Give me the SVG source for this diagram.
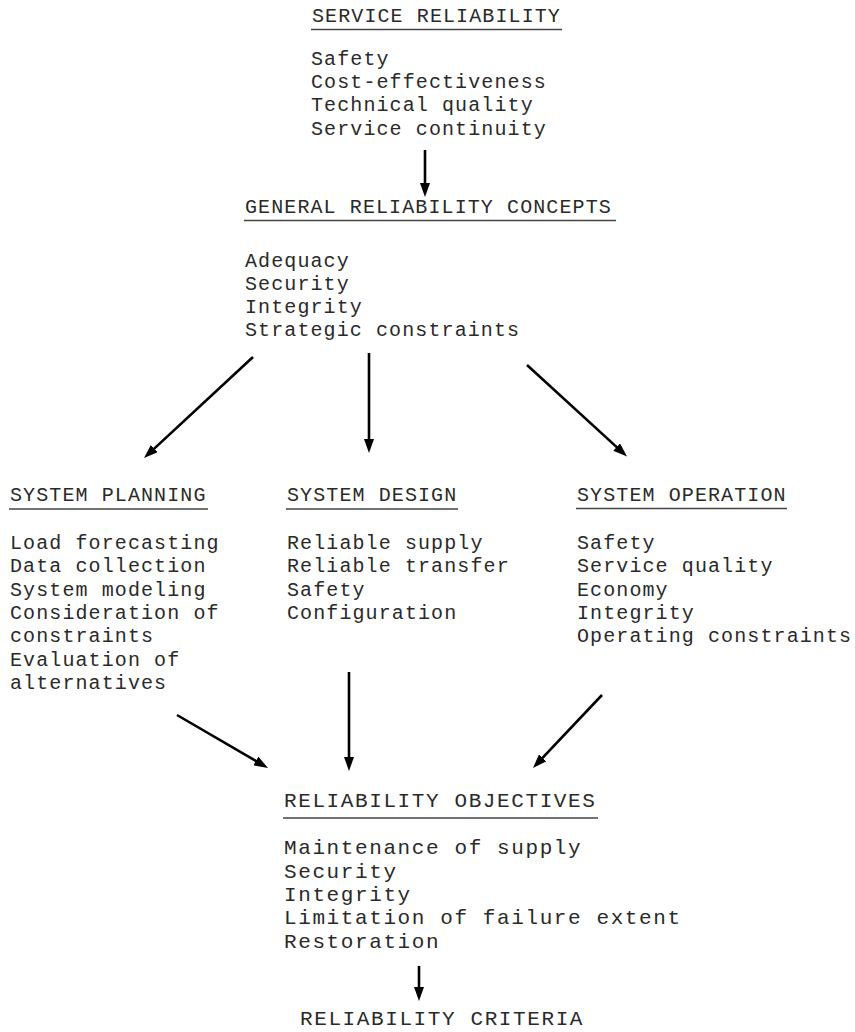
<svg xmlns="http://www.w3.org/2000/svg" width="855" height="1032" viewBox="0 0 855 1032">
<defs>
<style>
text{font-family:"Liberation Mono","Courier New",monospace;fill:#2a2a2a}
.t{font-size:20px;letter-spacing:1.1px}
.b{font-size:21px;letter-spacing:1.6px}
.u{stroke:#444;stroke-width:1.6}
.c{stroke:#000;stroke-width:2.6;fill:none;marker-end:url(#ah)}
</style>
<marker id="ah" markerUnits="userSpaceOnUse" markerWidth="14" markerHeight="10" refX="6" refY="5" orient="auto">
<path d="M0,0 L14,5 L0,10 z" fill="#000"/>
</marker>
</defs>
<rect width="855" height="1032" fill="#fff"/>
<g id="service-reliability">
<text class="t" x="312" y="21.5">SERVICE RELIABILITY</text>
<line class="u" x1="311" y1="29.5" x2="562" y2="29.5"/>
<text class="t" x="311" y="65">Safety</text>
<text class="t" x="311" y="88">Cost-effectiveness</text>
<text class="t" x="311" y="111">Technical quality</text>
<text class="t" x="311" y="134.5">Service continuity</text>
</g>
<g id="general-reliability-concepts">
<text class="t" x="245" y="213">GENERAL RELIABILITY CONCEPTS</text>
<line class="u" x1="244" y1="220.5" x2="616" y2="220.5"/>
<text class="t" x="245" y="266.5">Adequacy</text>
<text class="t" x="245" y="289.5">Security</text>
<text class="t" x="245" y="312.5">Integrity</text>
<text class="t" x="245" y="335.5">Strategic constraints</text>
</g>
<g id="system-planning">
<text class="t" x="10" y="501">SYSTEM PLANNING</text>
<line class="u" x1="9" y1="509" x2="208" y2="509"/>
<text class="t" x="10" y="549">Load forecasting</text>
<text class="t" x="10" y="572.3">Data collection</text>
<text class="t" x="10" y="595.6">System modeling</text>
<text class="t" x="10" y="619">Consideration of</text>
<text class="t" x="10" y="642.3">constraints</text>
<text class="t" x="10" y="665.6">Evaluation of</text>
<text class="t" x="10" y="689">alternatives</text>
</g>
<g id="system-design">
<text class="t" x="287" y="501">SYSTEM DESIGN</text>
<line class="u" x1="286" y1="509" x2="458" y2="509"/>
<text class="t" x="287" y="549">Reliable supply</text>
<text class="t" x="287" y="572.3">Reliable transfer</text>
<text class="t" x="287" y="595.6">Safety</text>
<text class="t" x="287" y="619">Configuration</text>
</g>
<g id="system-operation">
<text class="t" x="577" y="501">SYSTEM OPERATION</text>
<line class="u" x1="576" y1="508.5" x2="787" y2="508.5"/>
<text class="t" x="577" y="549">Safety</text>
<text class="t" x="577" y="572.3">Service quality</text>
<text class="t" x="577" y="595.6">Economy</text>
<text class="t" x="577" y="619">Integrity</text>
<text class="t" x="577" y="642.3">Operating constraints</text>
</g>
<g id="reliability-objectives">
<text class="b" x="284" y="807">RELIABILITY OBJECTIVES</text>
<line class="u" x1="283" y1="818" x2="598" y2="818"/>
<text class="b" x="284" y="854">Maintenance of supply</text>
<text class="b" x="284" y="877.5">Security</text>
<text class="b" x="284" y="900.5">Integrity</text>
<text class="b" x="284" y="924">Limitation of failure extent</text>
<text class="b" x="284" y="947.5">Restoration</text>
</g>
<g id="reliability-criteria">
<text class="b" x="300" y="1025">RELIABILITY CRITERIA</text>
</g>
<g id="connectors">
<line class="c" x1="425" y1="150" x2="425" y2="189"/>
<line class="c" x1="253" y1="357" x2="149.9" y2="452.6"/>
<line class="c" x1="369" y1="353" x2="369" y2="445"/>
<line class="c" x1="527" y1="365" x2="621.1" y2="451.1"/>
<line class="c" x1="177" y1="715" x2="261.1" y2="764"/>
<line class="c" x1="349" y1="672" x2="349" y2="763"/>
<line class="c" x1="602" y1="695" x2="538.5" y2="762.2"/>
<line class="c" x1="419" y1="966" x2="419" y2="993"/>
</g>
</svg>
